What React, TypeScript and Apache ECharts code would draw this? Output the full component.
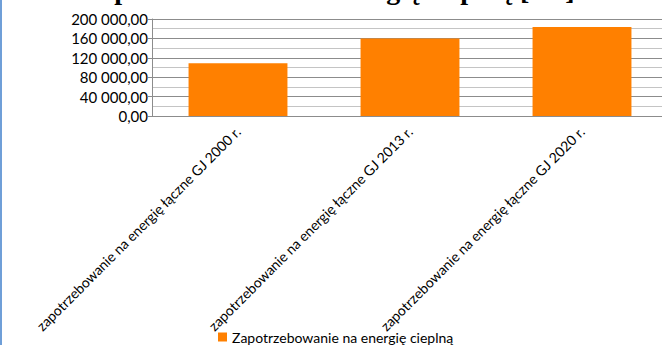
import React, { useEffect, useRef } from "react";
import * as echarts from "echarts";

const titleText = "Zapotrzebowanie na energię cieplną [GJ]";
const seriesName = "Zapotrzebowanie na energię cieplną";
const categories = [
  "zapotrzebowanie na energię łączne GJ 2000 r.",
  "zapotrzebowanie na energię łączne GJ 2013 r.",
  "zapotrzebowanie na energię łączne GJ 2020 r.",
];
const values = [109000, 160000, 183500];
const yMin = 0;
const yMax = 200000;
const yInterval = 40000;

function fmt(v: number): string {
  const s = Math.round(v).toString().replace(/\B(?=(\d{3})+(?!\d))/g, " ");
  return s + ",00";
}

export default function App() {
  const ref = useRef<HTMLDivElement>(null);
  useEffect(() => {
    if (!ref.current) return;
    const chart = echarts.init(ref.current, undefined, { renderer: "svg" });
    chart.setOption({
      animation: false,
      backgroundColor: "#ffffff",
      graphic: [
        {
          type: "rect",
          shape: { x: 662, y: 12, width: 6, height: 110 },
          style: { fill: "#ffffff" },
          z: 10,
        },
        {
          type: "rect",
          shape: { x: 0, y: 0, width: 2, height: 345 },
          style: { fill: "#6f9fd8" },
          z: 10,
        },
        {
          type: "text",
          x: 328,
          y: 3,
          style: {
            text: titleText,
            font: "bold 28px 'Liberation Serif'",
            fill: "#000000",
            align: "center",
            verticalAlign: "bottom",
          },
        },
      ],
      grid: { left: 152, right: 0, top: 19, bottom: 229 },
      legend: {
        left: 218,
        top: 330,
        padding: 0,
        itemWidth: 9,
        itemHeight: 9,
        itemGap: 6,
        icon: "rect",
        textStyle: { fontFamily: "Lato", fontSize: 14, color: "#000" },
        data: [seriesName],
      },
      xAxis: {
        type: "category",
        data: categories,
        axisLine: { show: false },
        axisTick: { show: false },
        axisLabel: {
          rotate: 45,
          interval: 0,
          margin: 13,
          fontFamily: "Lato",
          fontSize: 14,
          color: "#000",
        },
      },
      yAxis: {
        type: "value",
        min: yMin,
        max: yMax,
        interval: yInterval,
        axisLine: { show: true, lineStyle: { color: "#8c8c8c", width: 1 } },
        axisTick: { show: true, length: 4, lineStyle: { color: "#8c8c8c" } },
        axisLabel: {
          formatter: (v: number) => fmt(v),
          fontFamily: "Lato",
          fontSize: 15,
          color: "#000",
          margin: 4,
        },
        splitLine: { show: true, lineStyle: { color: "#8c8c8c", width: 1 } },
        minorTick: { show: false, splitNumber: 2 },
        minorSplitLine: { show: true, lineStyle: { color: "#c4c4c4", width: 1 } },
      },
      series: [
        {
          name: seriesName,
          type: "bar",
          data: values,
          barWidth: "57.5%",
          itemStyle: { color: "#ff8000" },
        },
      ],
    });
    return () => chart.dispose();
  }, []);
  return <div ref={ref} style={{ width: 668, height: 345, position: "absolute", left: 0, top: 0 }} />;
}
